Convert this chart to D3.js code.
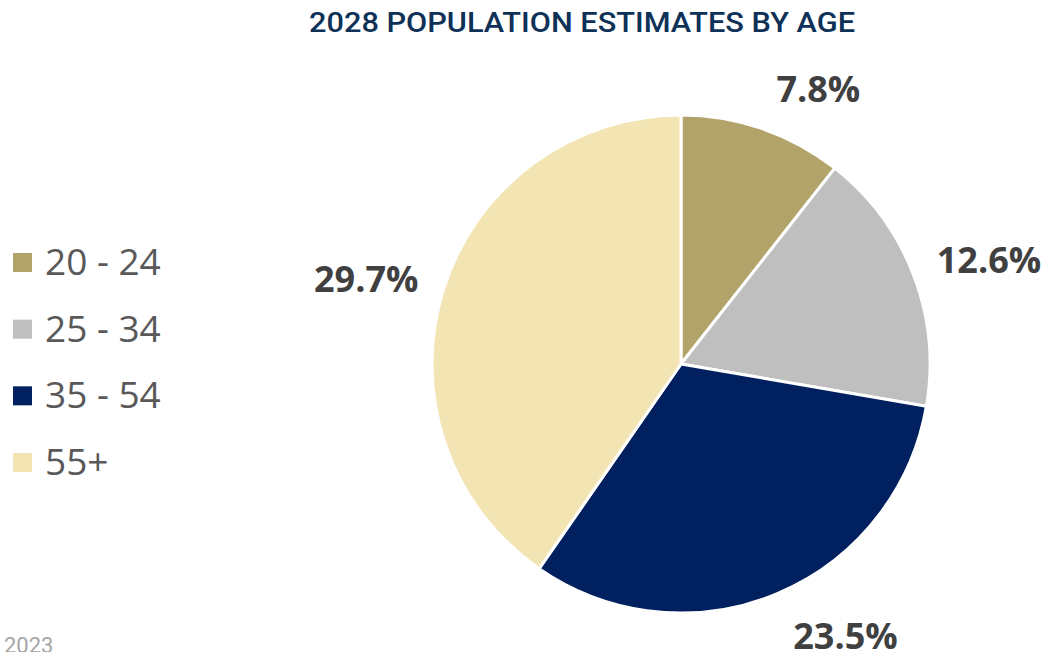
<!DOCTYPE html>
<html>
<head>
<meta charset="utf-8">
<script src="https://cdn.jsdelivr.net/npm/d3@7/dist/d3.min.js"></script>
<style>
  html, body { margin: 0; padding: 0; background: #ffffff; }
  svg { display: block; }
</style>
</head>
<body>
<svg id="chart" width="1047" height="652"></svg>
<script>
// Age groups and their share of the 2028 population
const ageGroups = ["20 - 24", "25 - 34", "35 - 54", "55+"];
const shares = [7.8, 12.6, 23.5, 29.7];
const sliceColors = ["#B2A36B", "#BFBFBF", "#00205F", "#F3E4B3"];

// Label placement around the pie: angular nudge (degrees) and distance from centre
const labelNudge = [7.5, 2.4, -8.4, -2.3];
const labelRadius = [307, 325, 318, 326];

const titleText = "2028 POPULATION ESTIMATES BY AGE";
const footText = "2023";

const svg = d3.select("#chart");
const W = 1047, H = 652;
const cx = 681, cy = 364, radius = 249;

// Title
svg.append("text")
  .attr("x", 309)
  .attr("y", 32)
  .attr("textLength", 546)
  .attr("lengthAdjust", "spacingAndGlyphs")
  .style("font-family", "Roboto, 'DejaVu Sans', sans-serif")
  .style("font-weight", 500)
  .style("font-size", "28px")
  .style("fill", "#0E3157")
  .text(titleText);

// Pie
const data = ageGroups.map((g, i) => ({ group: g, value: shares[i], color: sliceColors[i], idx: i }));
const pie = d3.pie().value(d => d.value).sort(null);
const arcs = pie(data);
const arc = d3.arc().innerRadius(0).outerRadius(radius);

const g = svg.append("g").attr("transform", `translate(${cx},${cy})`);
g.selectAll("path.slice")
  .data(arcs)
  .join("path")
  .attr("class", "slice")
  .attr("d", arc)
  .attr("fill", d => d.data.color)
  .attr("stroke", "#ffffff")
  .attr("stroke-width", 3)
  .attr("stroke-linejoin", "round");

// Percentage labels outside each slice
g.selectAll("text.pct")
  .data(arcs)
  .join("text")
  .attr("class", "pct")
  .attr("text-anchor", "middle")
  .attr("x", d => {
    const a = (d.startAngle + d.endAngle) / 2 + labelNudge[d.data.idx] * Math.PI / 180;
    return labelRadius[d.data.idx] * Math.sin(a);
  })
  .attr("y", d => {
    const a = (d.startAngle + d.endAngle) / 2 + labelNudge[d.data.idx] * Math.PI / 180;
    return -labelRadius[d.data.idx] * Math.cos(a) + 13;
  })
  .style("font-family", "'Open Sans', 'Noto Sans', sans-serif")
  .style("font-weight", 700)
  .style("font-size", "36px")
  .style("fill", "#404040")
  .text(d => d.data.value.toFixed(1) + "%");

// Legend
const legendY = d3.scalePoint().domain(ageGroups).range([275, 475]);
const legend = svg.append("g");
const rows = legend.selectAll("g.row")
  .data(data)
  .join("g")
  .attr("class", "row")
  .attr("transform", d => `translate(0,${legendY(d.group)})`);
rows.append("rect")
  .attr("x", 13)
  .attr("y", -22)
  .attr("width", 19)
  .attr("height", 19)
  .attr("fill", d => d.color);
rows.append("text")
  .attr("x", 45)
  .attr("y", 0)
  .style("font-family", "'Open Sans', 'Noto Sans', sans-serif")
  .style("font-size", "37px")
  .style("fill", "#595959")
  .text(d => d.group);

// Footer year
svg.append("text")
  .attr("x", 4)
  .attr("y", 653)
  .style("font-family", "Roboto, sans-serif")
  .style("font-size", "22px")
  .style("fill", "#A6A6A6")
  .text(footText);
</script>
</body>
</html>
